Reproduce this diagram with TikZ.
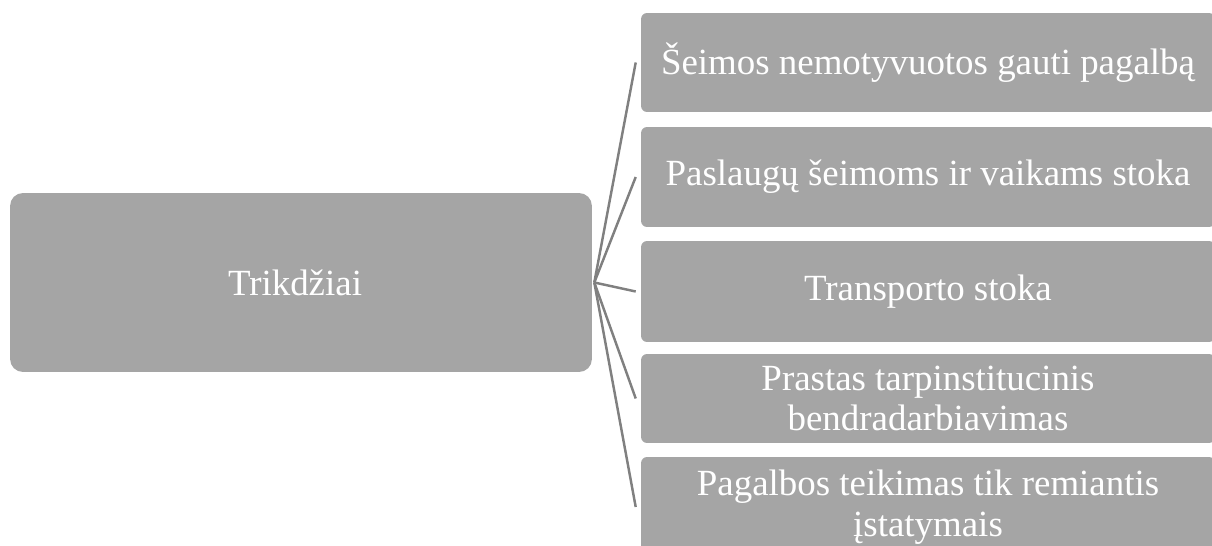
\documentclass[tikz,border=0pt]{standalone}
\usepackage{fontspec}
\setmainfont{Liberation Serif}
\definecolor{boxgray}{HTML}{A5A5A5}
\definecolor{linegray}{HTML}{808080}
\tikzset{
  rootbox/.style={fill=boxgray, rounded corners=0.26cm, minimum width=11.64cm,
    minimum height=3.58cm, inner sep=0pt, text=white,
    font=\fontsize{21}{23}\selectfont},
  itembox/.style={fill=boxgray, rounded corners=0.12cm, minimum width=11.48cm,
    inner sep=0pt, align=center, text=white,
    font=\fontsize{21}{23}\selectfont},
  link/.style={draw=linegray, line width=1.4pt}
}
\begin{document}
\begin{tikzpicture}[x=0.02cm,y=-0.02cm]
			\clip (0,0) rectangle (1212,546);
			\node[rootbox] (root) at (301,282.5) {\hspace*{-0.24cm}Trikdžiai};
			\coordinate (hub) at ([xshift=0.04cm]root.east);
			% items on the right
			\node[itembox, minimum height=1.98cm] (b1) at (928,62.5) {Šeimos nemotyvuotos gauti pagalbą};
			\node[itembox, minimum height=2cm] (b2) at (928,177) {Paslaugų šeimoms ir vaikams stoka};
			\node[itembox, minimum height=2.02cm] (b3) at (928,291.5) {Transporto stoka};
			\node[itembox, minimum height=1.78cm] (b4) at (928,398.5) {Prastas tarpinstitucinis\\bendradarbiavimas};
			\node[itembox, minimum height=2cm] (b5) at (928,507) {Pagalbos teikimas tik remiantis\\įstatymais};
			\foreach \b in {b1,b2,b3,b4,b5}
				\draw[link] (hub) -- ([xshift=-0.1cm]\b.west);
		\end{tikzpicture}
\end{document}
